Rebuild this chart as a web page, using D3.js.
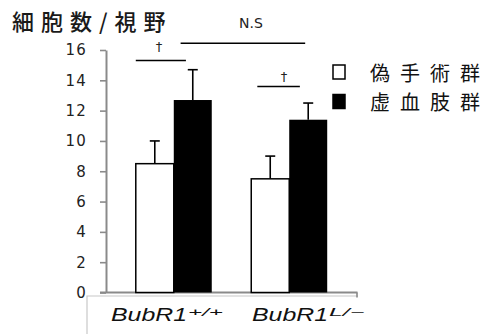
<!DOCTYPE html>
<html><head><meta charset="utf-8">
<script src="https://cdn.jsdelivr.net/npm/d3@7"></script>
<style>body{margin:0;background:#fff}svg{display:block}</style>
</head><body>
<script>
// ---- data ----
const groups = ["BubR1+/+", "BubR1L/-"];
const groupBase = ["BubR1", "BubR1"];
const groupSup = ["+/+", "L/\u2212"];
const seriesNames = ["偽手術群", "虚血肢群"];
const meanValues = [[8.5, 12.7], [7.5, 11.4]];   // [group][series]
const errValues = [[1.5, 2.0], [1.5, 1.1]];      // upward SD
const yTicks = [0, 2, 4, 6, 8, 10, 12, 14, 16];
const yTitle = "細胞数/視野";
const sigLabels = ["N.S", "\u2020", "\u2020"];

const W = 496, H = 334;
const svg = d3.select("body").append("svg").attr("width", W).attr("height", H);

const y = d3.scaleLinear().domain([0, 16]).range([292.5, 50]);
const x0 = d3.scaleBand().domain(groups).range([106, 357]).paddingInner(0.342).paddingOuter(0.258);
const x1 = d3.scaleBand().domain(seriesNames).range([0, x0.bandwidth()]);
const fills = ["#fff", "#000"];

// grey box under x axis
svg.append("path").attr("d", `M87,334 V296 H358`).attr("fill", "none").attr("stroke", "#c8c8c8").attr("stroke-width", 1.2);

// y axis
const yAxis = d3.axisLeft(y).tickValues(yTicks).tickSize(6).tickPadding(13).tickSizeOuter(0);
const ga = svg.append("g").attr("transform", "translate(106,0)").call(yAxis);
ga.select(".domain").attr("stroke", "#8a8a8a").attr("stroke-width", 2);
ga.selectAll(".tick line").attr("stroke", "#8a8a8a").attr("stroke-width", 1.6);
ga.selectAll(".tick text").attr("font-family", "DejaVu Sans").attr("font-size", 15)
  .attr("letter-spacing", 1.2).attr("fill", "#222");

// x axis line
svg.append("line").attr("x1", 100).attr("x2", 357.5).attr("y1", y(0)).attr("y2", y(0))
  .attr("stroke", "#8a8a8a").attr("stroke-width", 2);
svg.append("line").attr("x1", 357).attr("x2", 357).attr("y1", y(0)).attr("y2", y(0) + 5)
  .attr("stroke", "#8a8a8a").attr("stroke-width", 1.6);

// bars
groups.forEach((g, gi) => {
  const gg = svg.append("g").attr("transform", `translate(${x0(g)},0)`);
  seriesNames.forEach((s, si) => {
    const v = meanValues[gi][si], e = errValues[gi][si];
    const cx = x1(s) + x1.bandwidth() / 2;
    gg.append("line").attr("x1", cx).attr("x2", cx).attr("y1", y(v)).attr("y2", y(v + e))
      .attr("stroke", "#000").attr("stroke-width", 1.6);
    gg.append("line").attr("x1", cx - 5).attr("x2", cx + 5).attr("y1", y(v + e)).attr("y2", y(v + e))
      .attr("stroke", "#000").attr("stroke-width", 1.6);
    gg.append("rect").attr("x", x1(s)).attr("width", x1.bandwidth())
      .attr("y", y(v)).attr("height", y(0) - y(v))
      .attr("fill", fills[si]).attr("stroke", "#000").attr("stroke-width", si === 0 ? 1.5 : 0);
  });
});

// significance annotations
const bw = x1.bandwidth();
const g1 = x0(groups[0]), g2 = x0(groups[1]);
const sig = [
  {x1: g1 + bw * 1.18, x2: g2 + bw * 1.42, yv: 16.45, lab: sigLabels[0], lx: 251, ly: 23, fs: 14},
  {x1: g1, x2: g1 + bw * 1.32, yv: 15.3, lab: sigLabels[1], lx: 159, ly: 46, fs: 13},
  {x1: g2 + bw * 0.16, x2: g2 + bw * 1.28, yv: 13.6, lab: sigLabels[2], lx: 284, ly: 76, fs: 13}
];
sig.forEach(d => {
  svg.append("line").attr("x1", d.x1).attr("x2", d.x2).attr("y1", y(d.yv)).attr("y2", y(d.yv))
    .attr("stroke", "#000").attr("stroke-width", 1.5);
  svg.append("text").attr("x", d.lx).attr("y", d.ly).attr("text-anchor", "middle")
    .attr("dominant-baseline", "central").attr("font-family", "DejaVu Sans")
    .attr("font-size", d.fs).attr("fill", "#222").text(d.lab);
});

// title
svg.append("text").attr("x", 12).attr("y", 20).attr("dominant-baseline", "central")
  .attr("font-family", "Noto Sans CJK JP").attr("font-size", 22).attr("font-weight", 500)
  .attr("letter-spacing", 7).attr("fill", "#1a1a1a").text(yTitle);

// legend
const legY = [72, 101.5];
seriesNames.forEach((s, i) => {
  svg.append("rect").attr("x", 333).attr("y", legY[i] - 7).attr("width", 12).attr("height", 14)
    .attr("fill", fills[i]).attr("stroke", "#000").attr("stroke-width", 1.5);
  svg.append("text").attr("x", 370).attr("y", legY[i]).attr("dominant-baseline", "central")
    .attr("font-family", "Noto Sans CJK JP").attr("font-size", 20)
    .attr("letter-spacing", 10).attr("fill", "#111").text(s);
});

// x category labels
const labStart = [111, 252];
groups.forEach((g, i) => {
  svg.append("text").attr("x", labStart[i]).attr("y", 321)
    .attr("font-family", "Liberation Sans").attr("font-style", "italic").attr("font-size", 18)
    .attr("textLength", 76).attr("lengthAdjust", "spacingAndGlyphs").attr("fill", "#111")
    .text(groupBase[i]);
  svg.append("text").attr("x", labStart[i] + 77).attr("y", 316)
    .attr("font-family", "Liberation Sans").attr("font-style", "italic").attr("font-size", 10)
    .attr("textLength", 35).attr("lengthAdjust", "spacingAndGlyphs").attr("fill", "#111")
    .text(groupSup[i]);
});
</script>
</body></html>
